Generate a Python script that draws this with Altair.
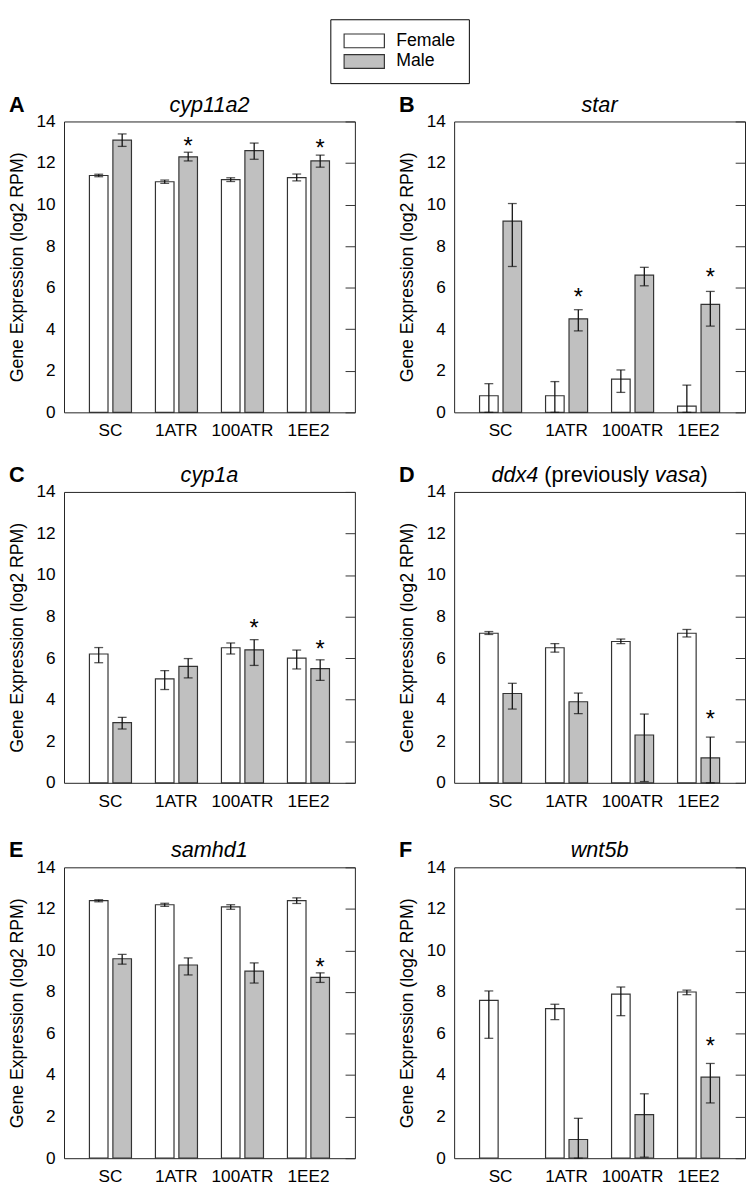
import altair as alt
import pandas as pd

TREATMENTS = ["SC", "1ATR", "100ATR", "1EE2"]
SEXES = ["Female", "Male"]
SEX_FILLS = ["white", "#c0c0c0"]
Y_TICKS = [0, 2, 4, 6, 8, 10, 12, 14]

# (mean, lower error, upper error) per treatment
CYP11A2_F = [(11.40, 11.34, 11.46), (11.10, 11.02, 11.18), (11.20, 11.11, 11.29), (11.30, 11.14, 11.47)]
CYP11A2_M = [(13.10, 12.80, 13.40), (12.30, 12.10, 12.52), (12.60, 12.18, 12.96), (12.10, 11.80, 12.38)]
STAR_F = [(0.80, 0.00, 1.38), (0.80, 0.00, 1.48), (1.60, 0.96, 2.04), (0.30, 0.00, 1.31)]
STAR_M = [(9.20, 7.02, 10.05), (4.50, 3.92, 4.94), (6.60, 6.09, 6.98), (5.20, 4.15, 5.82)]
CYP1A_F = [(6.20, 5.78, 6.51), (5.00, 4.49, 5.40), (6.50, 6.20, 6.73), (6.00, 5.48, 6.39)]
CYP1A_M = [(2.90, 2.59, 3.15), (5.60, 5.05, 5.98), (6.40, 5.65, 6.89), (5.50, 4.93, 5.92)]
DDX4_F = [(7.20, 7.14, 7.28), (6.50, 6.29, 6.70), (6.80, 6.70, 6.92), (7.20, 7.02, 7.38)]
DDX4_M = [(4.30, 3.55, 4.79), (3.90, 3.33, 4.32), (2.30, 0.06, 3.31), (1.20, 0.00, 2.20)]
SAMHD1_F = [(12.40, 12.34, 12.44), (12.20, 12.12, 12.27), (12.10, 11.98, 12.20), (12.40, 12.26, 12.53)]
SAMHD1_M = [(9.60, 9.34, 9.81), (9.30, 8.82, 9.64), (9.00, 8.43, 9.40), (8.70, 8.46, 8.92)]
WNT5B_F = [(7.60, 5.77, 8.05), (7.20, 6.67, 7.41), (7.90, 6.86, 8.24), (8.00, 7.87, 8.09)]
WNT5B_M = [None, (0.90, 0.00, 1.92), (2.10, 0.05, 3.10), (3.90, 2.66, 4.56)]

# significance asterisks over male bars: (treatment, asterisk height in log2 RPM)
CYP11A2_SIG = [("1ATR", 13.09), ("1EE2", 12.99)]
STAR_SIG = [("1ATR", 5.82), ("1EE2", 6.80)]
CYP1A_SIG = [("100ATR", 7.72), ("1EE2", 6.70)]
DDX4_SIG = [("1EE2", 3.33)]
SAMHD1_SIG = [("1EE2", 9.50)]
WNT5B_SIG = [("1EE2", 5.66)]

# panel titles as (text, italic) segments
CYP11A2_TITLE = [("cyp11a2", True)]
STAR_TITLE = [("star", True)]
CYP1A_TITLE = [("cyp1a", True)]
DDX4_TITLE = [("ddx4", True), (" (previously ", False), ("vasa", True), (")", False)]
SAMHD1_TITLE = [("samhd1", True)]
WNT5B_TITLE = [("wnt5b", True)]

FONT = "Liberation Sans"
W = 296
H = 296
TITLE_SIZE = 22
STAR_SIZE = 24

# Arial / Liberation Sans advance widths (per 1000 em)
ADV = {c: 556 for c in "abdeghnopqu0123456789"}
ADV.update({"c": 500, "f": 278, "i": 222, "j": 222, "k": 500, "l": 222, "m": 833,
            "r": 333, "s": 500, "t": 278, "v": 500, "w": 722, "x": 500, "y": 500,
            "z": 500, " ": 278, "(": 333, ")": 333})


def text_width(s, size):
    return sum(ADV.get(ch, 556) for ch in s) * size / 1000.0


yscale = alt.Scale(domain=[0, 14], nice=False)
xscale = alt.Scale(domain=TREATMENTS, paddingInner=0.363, paddingOuter=0.385)
xoscale = alt.Scale(domain=SEXES, paddingInner=0.208, paddingOuter=0)

legend = alt.Legend(
    title=None, orient="none", legendX=271, legendY=-104,
    strokeColor="black", fillColor="white", padding=13,
    symbolType="M-1,-0.3415H1V0.3415H-1Z", symbolSize=1681,
    symbolStrokeColor="#333", symbolStrokeWidth=1.2,
    labelFont=FONT, labelFontSize=18, labelColor="black", labelOffset=11,
    clipHeight=18, rowPadding=3,
)


def panel(letter, title_segs, fem, mal, sig):
    rows = []
    for t, f, m in zip(TREATMENTS, fem, mal):
        for sex, v in (("Female", f), ("Male", m)):
            if v is None:
                continue
            rows.append({"treatment": t, "sex": sex, "mean": v[0], "low": v[1], "high": v[2]})
    df = pd.DataFrame(rows)
    base = alt.Chart(df)

    x = alt.X("treatment:N", sort=TREATMENTS, scale=xscale,
              axis=alt.Axis(title=None, labelAngle=0, ticks=False, domain=False,
                            labelFontSize=17.5, labelPadding=10, labelFont=FONT,
                            labelColor="black"))
    xo = alt.XOffset("sex:N", scale=xoscale)

    bars = base.mark_bar(stroke="#333", strokeWidth=1.2).encode(
        x=x, xOffset=xo,
        y=alt.Y("mean:Q", scale=yscale,
                axis=alt.Axis(title="Gene Expression (log2 RPM)", values=Y_TICKS,
                              ticks=False, domain=False, grid=False,
                              labelFontSize=17.5, labelPadding=9, labelFont=FONT,
                              labelColor="black", titleFontSize=18,
                              titleFontWeight="normal", titleFont=FONT,
                              titleColor="black", titlePadding=10)),
        fill=alt.Fill("sex:N", scale=alt.Scale(domain=SEXES, range=SEX_FILLS), legend=legend),
    )
    err = base.mark_rule(color="#111", strokeWidth=1.3).encode(
        x=x, xOffset=xo, y=alt.Y("low:Q", scale=yscale, axis=None), y2="high:Q")
    cap_lo = base.mark_tick(color="#111", size=9, thickness=1.3).encode(
        x=x, xOffset=xo, y=alt.Y("low:Q", scale=yscale, axis=None))
    cap_hi = base.mark_tick(color="#111", size=9, thickness=1.3).encode(
        x=x, xOffset=xo, y=alt.Y("high:Q", scale=yscale, axis=None))
    right = base.mark_rule(opacity=0).encode(
        y=alt.Y("mean:Q", scale=yscale,
                axis=alt.Axis(orient="right", values=Y_TICKS, labels=False, ticks=True,
                              tickSize=10, offset=-10, domain=False, grid=False,
                              title=None, tickColor="#333", tickWidth=1)))

    sig_df = pd.DataFrame({"treatment": [s[0] for s in sig], "sex": ["Male"] * len(sig),
                           "y": [s[1] for s in sig], "t": ["*"] * len(sig)})
    stars = alt.Chart(sig_df).mark_text(fontSize=STAR_SIZE, font=FONT, color="black",
                                        baseline="alphabetic", dy=0.58 * STAR_SIZE).encode(
        x=x, xOffset=xo, y=alt.Y("y:Q", scale=yscale, axis=None), text="t:N")

    layers = [bars, err, cap_lo, cap_hi, stars, right]

    letter_mark = alt.Chart(pd.DataFrame({"t": [letter]})).mark_text(
        font=FONT, fontSize=22, fontWeight="bold", align="left", baseline="alphabetic",
        color="black").encode(text="t:N", x=alt.value(-56), y=alt.value(-10))
    layers.append(letter_mark)

    if len(title_segs) == 1:
        seg, ital = title_segs[0]
        layers.append(alt.Chart(pd.DataFrame({"t": [seg]})).mark_text(
            font=FONT, fontSize=TITLE_SIZE, fontStyle="italic" if ital else "normal",
            align="center", baseline="alphabetic", color="black").encode(
            text="t:N", x=alt.value(W / 2), y=alt.value(-10)))
    else:
        total = sum(text_width(s, TITLE_SIZE) for s, _ in title_segs)
        pos = W / 2 - total / 2
        for seg, ital in title_segs:
            lead = len(seg) - len(seg.lstrip(" "))
            xpos = pos + text_width(" " * lead, TITLE_SIZE)
            layers.append(alt.Chart(pd.DataFrame({"t": [seg.strip()]})).mark_text(
                font=FONT, fontSize=TITLE_SIZE, fontStyle="italic" if ital else "normal",
                align="left", baseline="alphabetic", color="black").encode(
                text="t:N", x=alt.value(xpos), y=alt.value(-10)))
            pos += text_width(seg, TITLE_SIZE)

    return alt.layer(*layers).resolve_axis(y="independent").properties(width=W, height=H)


pA = panel("A", CYP11A2_TITLE, CYP11A2_F, CYP11A2_M, CYP11A2_SIG)
pB = panel("B", STAR_TITLE, STAR_F, STAR_M, STAR_SIG)
pC = panel("C", CYP1A_TITLE, CYP1A_F, CYP1A_M, CYP1A_SIG)
pD = panel("D", DDX4_TITLE, DDX4_F, DDX4_M, DDX4_SIG)
pE = panel("E", SAMHD1_TITLE, SAMHD1_F, SAMHD1_M, SAMHD1_SIG)
pF = panel("F", WNT5B_TITLE, WNT5B_F, WNT5B_M, WNT5B_SIG)

row1 = alt.hconcat(pA, pB, spacing=43)
row2 = alt.hconcat(pC, pD, spacing=43)
row3 = alt.hconcat(pE, pF, spacing=43)

chart = alt.vconcat(alt.vconcat(row1, row2, spacing=24), row3, spacing=29).resolve_scale(
    fill="shared"
).properties(padding={"left": 0, "top": 0, "right": 0, "bottom": 0}).configure_view(
    stroke="#222", strokeWidth=1
).configure_text(font=FONT)

chart.save("out.html", embed_options={"renderer": "svg", "actions": False})
